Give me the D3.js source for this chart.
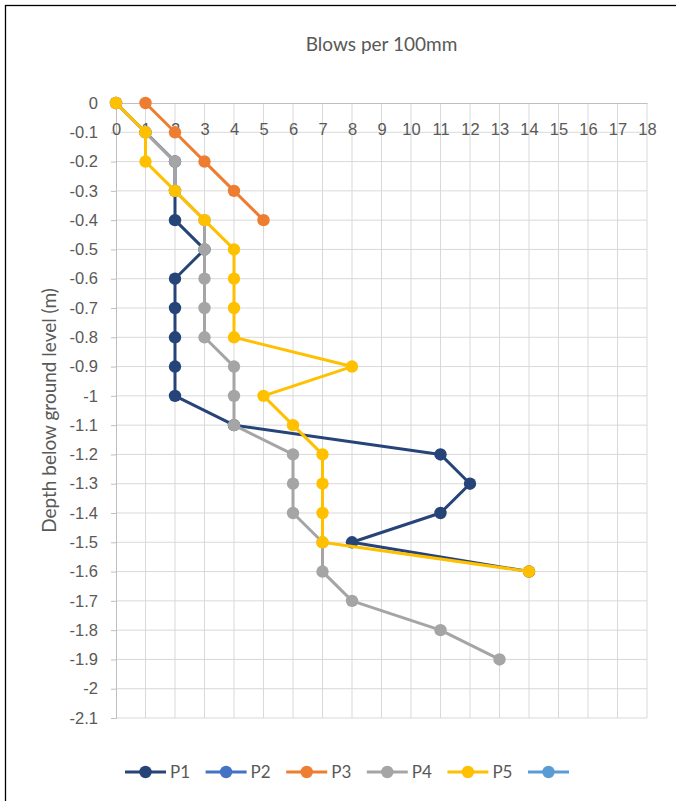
<!DOCTYPE html>
<html>
<head>
<meta charset="utf-8">
<script src="https://cdn.jsdelivr.net/npm/d3@7"></script>
<style>
  body { margin: 0; background: #fff; }
  svg { display: block; font-family: Lato, "Open Sans", sans-serif; }
</style>
</head>
<body>
<svg id="chart" width="676" height="801"></svg>
<script>
// depth below ground level for each reading (m)
const depths = [0, -0.1, -0.2, -0.3, -0.4, -0.5, -0.6, -0.7, -0.8, -0.9,
  -1.0, -1.1, -1.2, -1.3, -1.4, -1.5, -1.6, -1.7, -1.8, -1.9];

// blows per 100mm, one entry per depth
const p1 = [0, 1, 2, 2, 2, 3, 2, 2, 2, 2, 2, 4, 11, 12, 11, 8, 14];
const p2 = [];
const p3 = [1, 2, 3, 4, 5];
const p4 = [0, 1, 2, 2, 3, 3, 3, 3, 3, 4, 4, 4, 6, 6, 6, 7, 7, 8, 11, 13];
const p5 = [0, 1, 1, 2, 3, 4, 4, 4, 4, 8, 5, 6, 7, 7, 7, 7, 14];
const p6 = [];

const seriesNames = ['P1', 'P2', 'P3', 'P4', 'P5', ''];
const seriesColors = ['#264478', '#4472C4', '#ED7D31', '#A5A5A5', '#FFC000', '#5B9BD5'];
const seriesValues = [p1, p2, p3, p4, p5, p6];

const xTicks = d3.range(0, 19);
const yTicks = d3.range(0, 22).map(i => -i / 10);

const svg = d3.select('#chart');
const margin = {left: 116, right: 647, top: 103, bottom: 718};

const x = d3.scaleLinear().domain([0, 18]).range([margin.left, margin.right]);
const y = d3.scaleLinear().domain([0, -2.1]).range([margin.top, margin.bottom]);

// outer frame
svg.append('rect')
  .attr('x', 5.5).attr('y', 5.5)
  .attr('width', 700).attr('height', 820)
  .attr('fill', 'none').attr('stroke', '#000').attr('stroke-width', 1.3);

// grid
const grid = svg.append('g').attr('stroke', '#d9d9d9').attr('stroke-width', 1);
grid.selectAll('line.v').data(xTicks.slice(1)).enter().append('line')
  .attr('x1', d => x(d)).attr('x2', d => x(d))
  .attr('y1', y(0)).attr('y2', y(-2.1));
grid.selectAll('line.h').data(yTicks.slice(1)).enter().append('line')
  .attr('x1', x(0)).attr('x2', x(18))
  .attr('y1', d => y(d)).attr('y2', d => y(d));

// y axis (left)
const yAxis = svg.append('g')
  .attr('transform', `translate(${x(0)},0)`)
  .call(d3.axisLeft(y).tickValues(yTicks).tickSize(5).tickPadding(13)
    .tickFormat(d => String(Math.round(d * 10) / 10)));
yAxis.select('.domain').attr('stroke', '#bfbfbf');
yAxis.selectAll('.tick line').attr('stroke', '#bfbfbf');
yAxis.selectAll('.tick text').attr('fill', '#595959').style('font-size', '16.5px');

// x axis at depth 0
const xAxis = svg.append('g')
  .attr('transform', `translate(0,${y(0)})`)
  .call(d3.axisBottom(x).tickValues(xTicks).tickSize(0).tickPadding(20));
xAxis.select('.domain').attr('stroke', '#bfbfbf');
xAxis.selectAll('.tick text').attr('fill', '#595959').style('font-size', '16.5px');

// titles
svg.append('text')
  .attr('x', (margin.left + margin.right) / 2).attr('y', 51)
  .attr('text-anchor', 'middle').attr('fill', '#595959')
  .style('font-size', '19px')
  .text('Blows per 100mm');

svg.append('text')
  .attr('transform', `translate(56,${(margin.top + margin.bottom) / 2}) rotate(-90)`)
  .attr('text-anchor', 'middle').attr('fill', '#595959')
  .style('font-size', '19px')
  .text('Depth below ground level (m)');

// series
const line = d3.line()
  .defined(d => d.v != null)
  .x(d => x(d.v)).y(d => y(d.depth));

seriesValues.forEach((vals, i) => {
  const pts = vals.map((v, j) => ({v: v, depth: depths[j]}));
  const g = svg.append('g');
  g.append('path')
    .datum(pts)
    .attr('d', line)
    .attr('fill', 'none')
    .attr('stroke', seriesColors[i])
    .attr('stroke-width', 3)
    .attr('stroke-linejoin', 'round');
  g.selectAll('circle').data(pts).enter().append('circle')
    .attr('cx', d => x(d.v)).attr('cy', d => y(d.depth))
    .attr('r', 6.2)
    .attr('fill', seriesColors[i]);
});

// legend
const legend = svg.append('g').attr('transform', 'translate(125,772)');
const item = legend.selectAll('g').data(seriesNames).enter().append('g')
  .attr('transform', (d, i) => `translate(${i * 80.6},0)`);
item.append('line')
  .attr('x1', 0).attr('x2', 41)
  .attr('stroke', (d, i) => seriesColors[i]).attr('stroke-width', 3);
item.append('circle')
  .attr('cx', 20.5).attr('r', 6.2)
  .attr('fill', (d, i) => seriesColors[i]);
item.append('text')
  .attr('x', 45).attr('dy', '0.35em')
  .attr('fill', '#595959').style('font-size', '17px')
  .text(d => d);
</script>
</body>
</html>
